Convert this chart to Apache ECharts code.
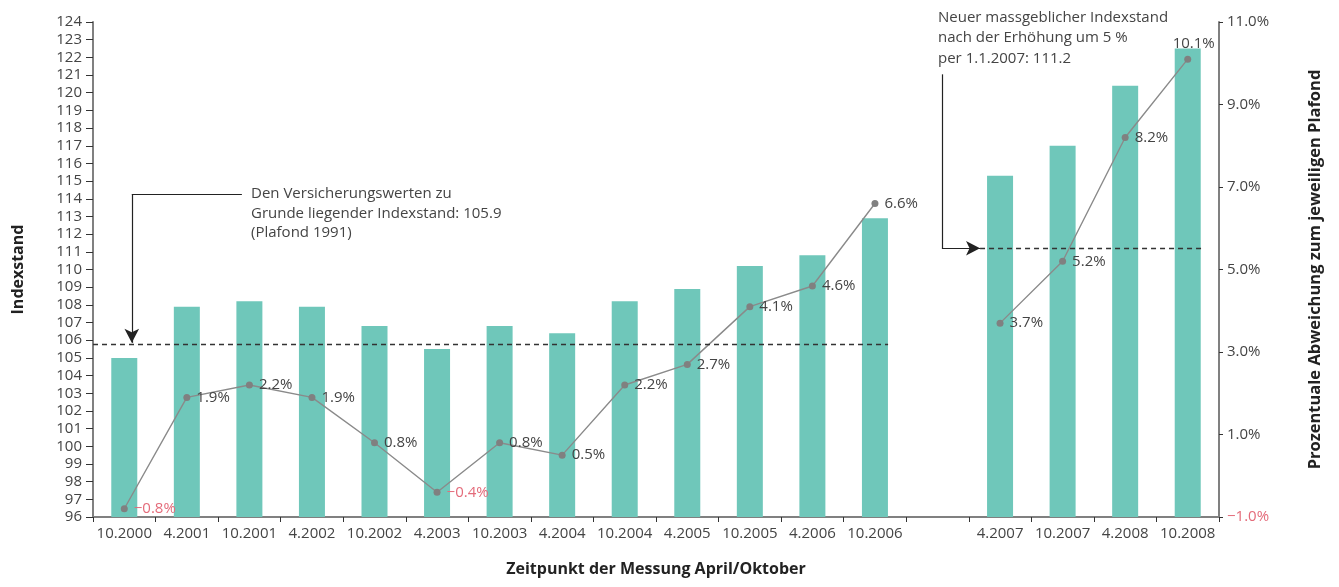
<!DOCTYPE html>
<html>
<head>
<meta charset="utf-8">
<script src="https://cdn.jsdelivr.net/npm/echarts@6/dist/echarts.min.js"></script>
<style>
  html, body { margin: 0; padding: 0; background: #fff; }
  #chart { width: 1339px; height: 587px; }
</style>
</head>
<body>
<div id="chart"></div>
<script>
// measurement dates (empty slot = gap between the two plafond periods)
var categories = ['10.2000', '4.2001', '10.2001', '4.2002', '10.2002', '4.2003', '10.2003', '4.2004',
    '10.2004', '4.2005', '10.2005', '4.2006', '10.2006', '', '4.2007', '10.2007', '4.2008', '10.2008'];
// index level (bars, left axis)
var indexValues = [105.0, 107.9, 108.2, 107.9, 106.8, 105.5, 106.8, 106.4,
    108.2, 108.9, 110.2, 110.8, 112.9, null, 115.3, 117.0, 120.4, 122.5];
// deviation from plafond in % (line, right axis)
var deviation = [-0.8, 1.9, 2.2, 1.9, 0.8, -0.4, 0.8, 0.5,
    2.2, 2.7, 4.1, 4.6, 6.6, null, 3.7, 5.2, 8.2, 10.1];
// reference levels
var plafond1991 = 105.8;
var plafond2007 = 111.2;

var textColor = '#444';
var negColor = '#e46b7a';
var axisColor = '#808080';
var font = 'Open Sans';

function fmtPct(v) {
    var s = Math.abs(v).toFixed(1) + '%';
    return v < 0 ? '\u2212' + s : s;
}

var lineData = deviation.map(function (v, i) {
    if (v === null) return null;
    return {
        value: v,
        label: {
            color: v < 0 ? negColor : textColor,
            position: i === deviation.length - 1 ? 'top' : 'right',
            offset: i === deviation.length - 1 ? [6, 2] : [0, 0]
        }
    };
});

var chart = echarts.init(document.getElementById('chart'));

var option = {
    animation: false,
    textStyle: { fontFamily: font },
    grid: { left: 93, right: 120, top: 22, bottom: 70, outerBoundsMode: 'none' },
    xAxis: [{
        type: 'category',
        data: categories,
        axisLine: { onZero: false, lineStyle: { color: axisColor, width: 2 } },
        axisTick: { show: true, length: 5, lineStyle: { color: '#333' } },
        axisLabel: { color: textColor, fontSize: 15, interval: 0, margin: 9 },
        name: 'Zeitpunkt der Messung April/Oktober',
        nameLocation: 'middle',
        nameGap: 44,
        nameTextStyle: { color: '#222', fontSize: 16, fontWeight: 'bold' }
    }, {
        type: 'value',
        min: 0,
        max: categories.length,
        show: false
    }],
    yAxis: [{
        type: 'value',
        min: 96,
        max: 124,
        interval: 1,
        splitLine: { show: false },
        axisLine: { show: true, lineStyle: { color: axisColor, width: 2 } },
        axisTick: { show: true, length: 7, lineStyle: { color: '#333' } },
        axisLabel: { color: textColor, fontSize: 15, margin: 11 },
        name: 'Indexstand',
        nameLocation: 'middle',
        nameRotate: 90,
        nameGap: 67,
        nameTextStyle: { color: '#222', fontSize: 16, fontWeight: 'bold' }
    }, {
        type: 'value',
        min: -1,
        max: 11,
        interval: 2,
        position: 'right',
        splitLine: { show: false },
        axisLine: { show: true, lineStyle: { color: axisColor, width: 2 } },
        axisTick: { show: true, length: 4, lineStyle: { color: '#333' } },
        axisLabel: {
            fontSize: 15,
            margin: 8,
            formatter: function (v) {
                return v < 0 ? '{neg|' + fmtPct(v) + '}' : '{pos|' + fmtPct(v) + '}';
            },
            rich: {
                neg: { color: negColor, fontSize: 15, fontFamily: font },
                pos: { color: textColor, fontSize: 15, fontFamily: font }
            }
        },
        name: 'Prozentuale Abweichung zum jeweiligen Plafond',
        nameLocation: 'middle',
        nameRotate: 90,
        nameGap: 88,
        nameTextStyle: { color: '#222', fontSize: 16.5, fontWeight: 'bold' }
    }],
    series: [{
        name: 'Indexstand',
        type: 'bar',
        xAxisIndex: 0,
        yAxisIndex: 0,
        data: indexValues,
        barWidth: 26,
        itemStyle: { color: '#6fc7ba' },
        z: 2
    }, {
        name: 'Abweichung',
        type: 'line',
        xAxisIndex: 0,
        yAxisIndex: 1,
        data: lineData,
        connectNulls: false,
        symbol: 'circle',
        symbolSize: 7,
        lineStyle: { color: '#8a8a8a', width: 1.4 },
        itemStyle: { color: '#808080' },
        label: {
            show: true,
            fontSize: 15,
            distance: 6,
            formatter: function (p) { return fmtPct(p.value); }
        },
        z: 4
    }, {
        // reference lines and annotation connectors
        name: 'ref',
        type: 'line',
        xAxisIndex: 1,
        yAxisIndex: 0,
        data: [],
        markLine: {
            silent: true,
            symbol: 'none',
            label: { show: false },
            z: 5,
            data: [
                [{ coord: [0, plafond1991], lineStyle: { type: [5, 4], color: '#333', width: 1.3 } },
                 { coord: [12.71, plafond1991] }],
                [{ coord: [14.18, plafond2007], lineStyle: { type: [5, 4], color: '#333', width: 1.3 } },
                 { coord: [17.72, plafond2007] }],
                [{ coord: [2.38, 114.24], lineStyle: { type: 'solid', color: '#222', width: 1.2 } },
                 { coord: [0.62, 114.24] }],
                [{ coord: [0.62, 114.24], lineStyle: { type: 'solid', color: '#222', width: 1.2 } },
                 { coord: [0.62, plafond1991 + 0.05], symbol: 'arrow', symbolSize: [11, 14] }],
                [{ coord: [13.57, 121.04], lineStyle: { type: 'solid', color: '#222', width: 1.2 } },
                 { coord: [13.57, plafond2007] }],
                [{ coord: [13.57, plafond2007], lineStyle: { type: 'solid', color: '#222', width: 1.2 } },
                 { coord: [14.18, plafond2007], symbol: 'arrow', symbolSize: [11, 14] }]
            ]
        }
    }],
    graphic: [{
        type: 'text',
        left: 251,
        top: 184,
        style: {
            text: 'Den Versicherungswerten zu\nGrunde liegender Indexstand: 105.9\n(Plafond 1991)',
            fill: textColor,
            font: '15px "Open Sans"',
            lineHeight: 19.5
        }
    }, {
        type: 'text',
        left: 938,
        top: 7,
        style: {
            text: 'Neuer massgeblicher Indexstand\nnach der Erh\u00f6hung um 5 %\nper 1.1.2007: 111.2',
            fill: textColor,
            font: '15px "Open Sans"',
            lineHeight: 20.5
        }
    }]
};

chart.setOption(option);
</script>
</body>
</html>
